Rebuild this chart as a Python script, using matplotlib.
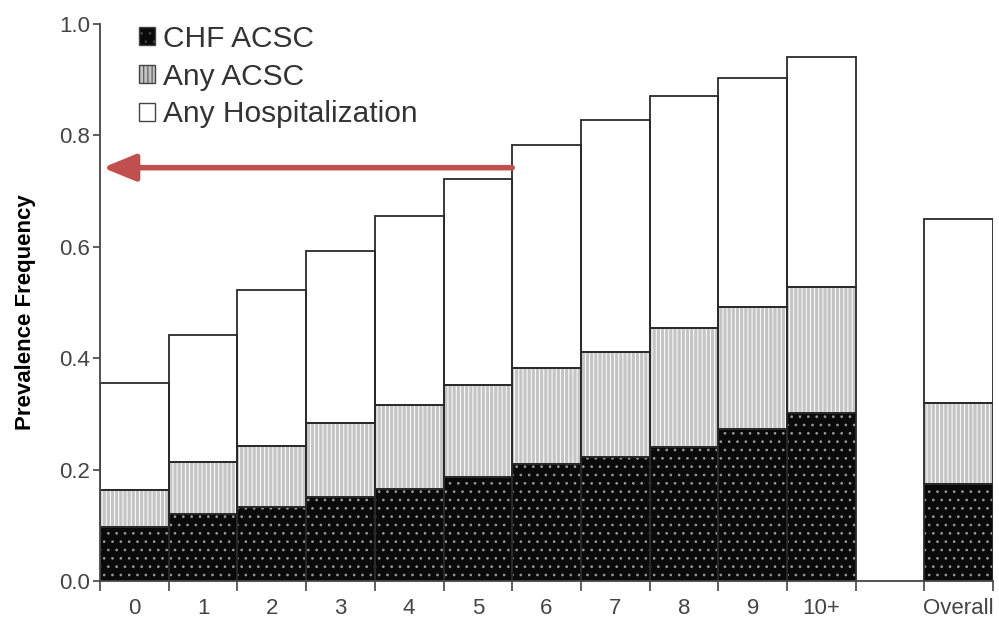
import matplotlib.pyplot as plt
from matplotlib.patches import Patch

plt.rcParams['font.family'] = ['Liberation Sans', 'DejaVu Sans']
plt.rcParams['hatch.linewidth'] = 0.7

CATEGORIES = ["0", "1", "2", "3", "4", "5", "6", "7", "8", "9", "10+", "", "Overall"]
# cumulative heights (None = empty slot)
ANY_HOSP = [0.355, 0.442, 0.522, 0.592, 0.655, 0.722, 0.783, 0.828, 0.871, 0.903, 0.941, None, 0.650]
ANY_ACSC = [0.163, 0.214, 0.242, 0.284, 0.316, 0.352, 0.382, 0.411, 0.454, 0.492, 0.528, None, 0.320]
CHF_ACSC = [0.097, 0.120, 0.133, 0.151, 0.165, 0.187, 0.210, 0.223, 0.241, 0.273, 0.302, None, 0.174]
ARROW_Y = 0.742
ARROW_FROM = 5.5
ARROW_TO = -0.46

RED = "#c0504d"
EDGE = "#2a2a2a"


def main():
    fig = plt.figure(figsize=(9.99, 6.21), dpi=100)
    ax = fig.add_axes([0.1001, 0.0644, 0.894, 0.897])

    idx = [i for i, v in enumerate(ANY_HOSP) if v is not None]
    chf = [CHF_ACSC[i] for i in idx]
    acsc = [ANY_ACSC[i] for i in idx]
    hosp = [ANY_HOSP[i] for i in idx]
    mid = [a - c for a, c in zip(acsc, chf)]
    top = [h - a for h, a in zip(hosp, acsc)]

    # fills with white hatching
    ax.bar(idx, chf, width=1.0, color="#0a0a0a", edgecolor="#9a9a9a", hatch="..", lw=0)
    ax.bar(idx, mid, bottom=chf, width=1.0, color="#c4c4c4", edgecolor="white", hatch="||||", lw=0)
    ax.bar(idx, top, bottom=acsc, width=1.0, color="white", lw=0)
    # outlines
    for b, h in [([0] * len(idx), chf), (chf, mid), (acsc, top)]:
        ax.bar(idx, h, bottom=b, width=1.0, facecolor="none", edgecolor=EDGE, lw=1.3)

    ax.set_xlim(-0.5, 12.5)
    ax.set_ylim(0, 1.0)
    ax.set_xticks([i - 0.5 for i in range(len(CATEGORIES) + 1)])
    ax.set_xticklabels([])
    ax.set_xticks(range(len(CATEGORIES)), minor=True)
    ax.set_xticklabels(CATEGORIES, minor=True)
    ax.tick_params(axis="x", which="major", length=7, width=1.2, color="#444")
    ax.tick_params(axis="x", which="minor", length=0, pad=12, labelsize=16, labelcolor="#444")
    ax.set_yticks([0.0, 0.2, 0.4, 0.6, 0.8, 1.0])
    ax.set_yticklabels(["0.0", "0.2", "0.4", "0.6", "0.8", "1.0"])
    ax.tick_params(axis="y", length=5, width=1.2, color="#444", labelsize=16, labelcolor="#444", pad=2)
    for s in ["top", "right"]:
        ax.spines[s].set_visible(False)
    for s in ["left", "bottom"]:
        ax.spines[s].set_color("#444")
        ax.spines[s].set_linewidth(1.3)

    ax.set_ylabel("Prevalence Frequency", fontsize=16, fontweight="bold")
    ax.yaxis.set_label_coords(-0.072, 0.483)

    handles = [
        Patch(facecolor="#0a0a0a", edgecolor="#444", hatch="..", label="CHF ACSC"),
        Patch(facecolor="#c4c4c4", edgecolor="#444", hatch="||||", label="Any ACSC"),
        Patch(facecolor="white", edgecolor="#444", label="Any Hospitalization"),
    ]
    leg = ax.legend(handles=handles, loc="upper left", bbox_to_anchor=(0.03, 1.02), frameon=False,
                    fontsize=21.5, handlelength=0.55, handleheight=0.55, handletextpad=0.25,
                    labelspacing=0.33, borderaxespad=0)
    for t in leg.get_texts():
        t.set_color("#333")

    ax.annotate("", xy=(ARROW_TO, ARROW_Y), xytext=(ARROW_FROM, ARROW_Y),
                arrowprops=dict(arrowstyle="-|>,head_length=1.1,head_width=0.45", color=RED,
                                lw=4, mutation_scale=18, shrinkA=0, shrinkB=0))

    plt.savefig("out.png", dpi=100)


if __name__ == "__main__":
    main()
